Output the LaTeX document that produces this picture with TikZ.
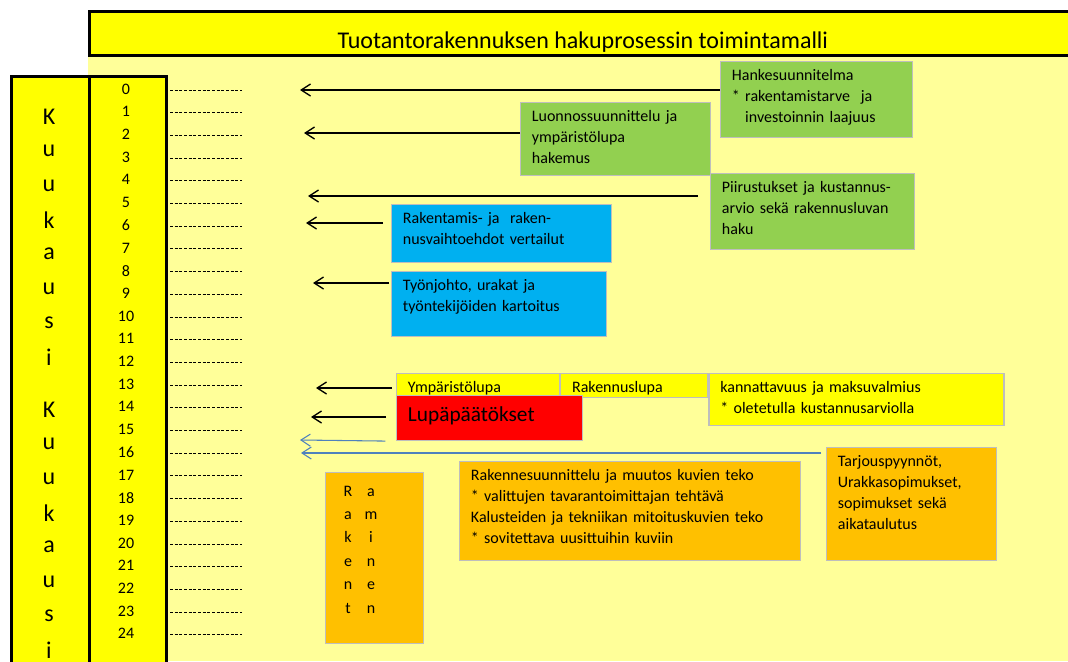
\documentclass[tikz,border=0pt]{standalone}
\usepackage{fontspec}
\setmainfont{Carlito}
\usepackage{tikz}
\usetikzlibrary{positioning, calc, arrows.meta}

\definecolor{kkyellow}{RGB}{255,255,0}
\definecolor{paleyellow}{RGB}{255,255,153}
\definecolor{boxgreen}{RGB}{146,208,80}
\definecolor{boxblue}{RGB}{0,176,240}
\definecolor{boxorange}{RGB}{255,192,0}
\definecolor{boxred}{RGB}{255,0,0}
\definecolor{boxline}{RGB}{190,190,190}
\definecolor{arrblue}{RGB}{79,129,189}

\begin{document}
\begin{tikzpicture}[x = 0.75pt, y = -0.75pt]
\useasboundingbox (0, 0) rectangle (1068, 661);
\clip (0, 0) rectangle (1068, 661);
\begin{scope}[
	colbox/.style={draw, line width=2.25pt, fill=kkyellow, anchor=north west, inner sep=0pt},
	plainbox/.style={draw=boxline, line width=0.9pt, anchor=north west, inner sep=0pt},
	textbox/.style={plainbox, align=left, inner xsep=8.5pt, inner ysep=5.5pt, text height=9pt, font=\fontsize{12}{15.75}\selectfont},
	greenbox/.style={textbox, fill=boxgreen},
	bluebox/.style={textbox, fill=boxblue},
	yellowbox/.style={textbox, fill=kkyellow},
	orangebox/.style={textbox, fill=boxorange},
	redbox/.style={textbox, fill=boxred, text height=14pt, font=\fontsize{16}{19}\selectfont},
	kkletter/.style={inner sep=0pt, font=\fontsize{18}{20}\selectfont},
	monthnum/.style={inner sep=0pt, font=\fontsize{12}{14}\selectfont},
	rakletter/.style={inner sep=0pt, anchor=base, font=\fontsize{12}{14}\selectfont},
	dashrow/.style={line width=0.7pt, dash pattern=on 2.2pt off 1.3pt, shorten <=1.5pt},
	arr/.style={-{Straight Barb[length=7pt, width=9pt]}, line width=1pt},
	bluearr/.style={arr, draw=arrblue, line width=0.8pt}
]
\fill[paleyellow] (88, 54) rectangle (1068, 661);
\node[colbox, minimum width=740pt, minimum height=33pt, text height=21.8pt, text depth=0pt, font=\fontsize{18}{22}\selectfont] (title) at (88, 10) {Tuotantorakennuksen hakuprosessin toimintamalli};
\node[colbox, minimum width=58.5pt, minimum height=446pt] (kkcol) at (10, 75) {};
\node[colbox, minimum width=57.75pt, minimum height=446pt] (numcol) at (88, 75) {};
\foreach \l [count=\i from 0] in {K, u, u, k, a, u, s, i} {
	\node[kkletter] (kk-a\i) at (49, {117 + 34.3*\i}) {\l};
	\node[kkletter] (kk-b\i) at (49, {410 + 34.3*\i}) {\l};
}
\foreach \n in {0, ..., 24} {
	\node[monthnum] (num-\n) at (126, {89 + 22.7*\n}) {\n};
	\coordinate (dash-\n) at (242, {90 + 22.7*\n});
	\draw[dashrow] (numcol.east |- dash-\n) -- (dash-\n);
}
\node[greenbox, text width=127pt, text depth=37pt] (hanke) at (720, 61) {Hankesuunnitelma\\{}* rakentamistarve\ \ ja\\\phantom{* }investoinnin laajuus};
\node[greenbox, text width=125.5pt, text depth=34.75pt] (luonnos) at (520, 102) {Luonnossuunnittelu ja\\ympäristölupa\\hakemus};
\node[greenbox, text width=136pt, text depth=37pt] (piirus) at (710, 173) {Piirustukset ja kustannus-\\arvio sekä rakennusluvan\\haku};
\node[bluebox, text width=148pt, text depth=23.5pt] (vertailu) at (391, 204) {Rakentamis- ja\ \ raken-\\nusvaihtoehdot vertailut};
\node[bluebox, text width=144.25pt, text depth=28.75pt] (tyonjohto) at (391, 271) {Työnjohto, urakat ja\\työntekijöiden kartoitus};
\node[yellowbox, text width=105.25pt, text depth=0.25pt] (ymparisto) at (396, 373) {Ympäristölupa};
\node[yellowbox, right=0pt of ymparisto.north east, anchor=north west, text width=93.25pt, text depth=0pt, inner ysep=3.5pt, text height=11pt] (rakluppa) {Rakennuslupa};
\node[yellowbox, right=0pt of rakluppa.north east, anchor=north west, text width=204.25pt, text depth=19pt] (kannatt) {kannattavuus ja maksuvalmius\\{}* oletetulla kustannusarviolla};
\node[redbox, text width=122.5pt, text depth=8.75pt] (lupa) at (396, 395) {Lupäpäätökset};
\node[orangebox, text width=238.75pt, text depth=54.25pt] (rakennes) at (459, 461) {Rakennesuunnittelu ja muutos kuvien teko\\{}* valittujen tavarantoimittajan tehtävä\\Kalusteiden ja tekniikan mitoituskuvien teko\\{}* sovitettava uusittuihin kuviin};
\node[orangebox, text width=110.5pt, text depth=64.75pt] (tarjous) at (826, 447) {Tarjouspyynnöt,\\Urakkasopimukset,\\sopimukset sekä\\aikataulutus};
\node[plainbox, fill=boxorange, minimum width=73.5pt, minimum height=128.25pt] (rakent) at (325, 472) {};
\foreach \l/\r [count=\i from 0] in {R/a, a/m, k/i, e/n, n/e, t/n} {
	\node[rakletter] (rak-l\i) at (348, {496 + 23.4*\i}) {\l};
	\node[rakletter] (rak-r\i) at (371, {496 + 23.4*\i}) {\r};
}
\foreach \bx/\x/\y/\gap in {hanke/300/90/0pt, luonnos/304/133/0pt, piirus/308/196/9pt, vertailu/306/223/6pt, tyonjohto/313/283/1.5pt, ymparisto/316/388/3pt, lupa/311/417/7.5pt} {
	\coordinate (tip-\bx) at (\x, \y);
	\draw[arr, shorten <=\gap] (\bx.west |- tip-\bx) -- (tip-\bx);
}
\coordinate (tip-lupa-b) at (300, 440);
\draw[bluearr, shorten <=8pt] (lupa.south west) -- (tip-lupa-b);
\coordinate (tip-tarjous) at (301, 453);
\draw[bluearr, shorten <=3.75pt] (tarjous.west |- tip-tarjous) -- (tip-tarjous);
\end{scope}
\end{tikzpicture}
\end{document}
